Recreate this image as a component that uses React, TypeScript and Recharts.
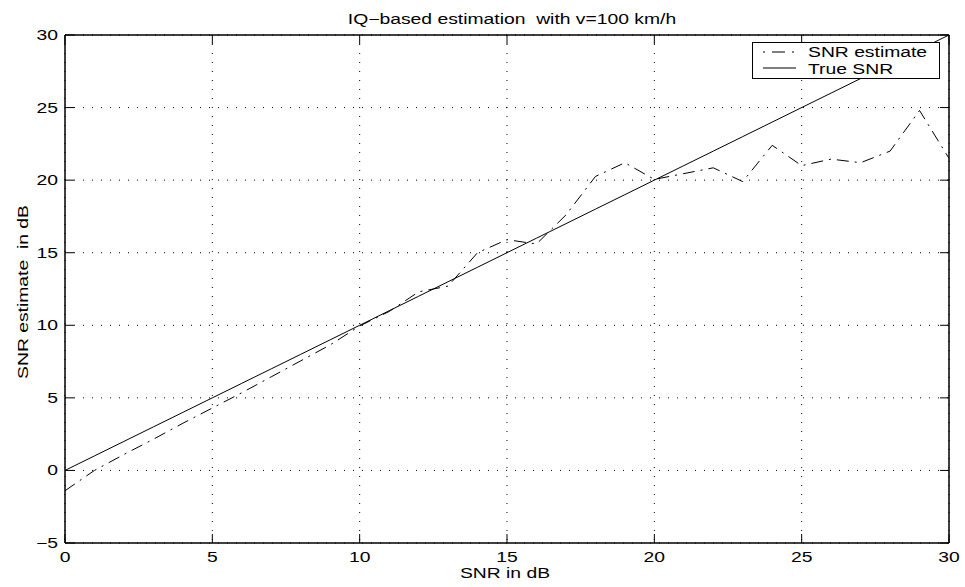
import { CartesianGrid, Legend, Line, LineChart, XAxis, YAxis } from 'recharts'

const SNR_DB = [0, 1, 2, 3, 4, 5, 6, 7, 8, 9, 10, 11, 12, 13, 14, 15, 16, 17, 18, 19, 20, 21, 22, 23, 24, 25, 26, 27, 28, 29, 30]
const TRUE_SNR = [0, 1, 2, 3, 4, 5, 6, 7, 8, 9, 10, 11, 12, 13, 14, 15, 16, 17, 18, 19, 20, 21, 22, 23, 24, 25, 26, 27, 28, 29, 30]
const SNR_EST = [-1.4, 0.0, 1.1, 2.15, 3.25, 4.3, 5.35, 6.45, 7.55, 8.65, 9.95, 10.95, 12.3, 12.7, 15.0, 15.9, 15.6, 17.6, 20.25, 21.2, 20.05, 20.45, 20.85, 19.9, 22.4, 21.0, 21.45, 21.2, 22.0, 24.8, 21.5]
const X_TICKS = [0, 5, 10, 15, 20, 25, 30]
const Y_TICKS = [-5, 0, 5, 10, 15, 20, 25, 30]

const data = SNR_DB.map((snr, i) => ({ snr, est: SNR_EST[i], truth: TRUE_SNR[i] }))

const FONT = '"Liberation Sans", Arial, Helvetica, sans-serif'
const SX = 1.38 // the glyphs in the original are drawn wide

const fmt = (v: number) => String(v).replace('-', '\u2212')

const XTick = ({ x, y, payload }: any) => (
  <text transform={`translate(${x},${y + 10}) scale(${SX},1)`} textAnchor="middle" fontSize={14} fontFamily={FONT} fill="#000">
    {fmt(payload.value)}
  </text>
)

const YTick = ({ x, y, payload }: any) => (
  <text transform={`translate(${x},${y + 5}) scale(${SX},1)`} textAnchor="end" fontSize={14} fontFamily={FONT} fill="#000">
    {fmt(payload.value)}
  </text>
)

const NoTick = () => <g />

const LegendBox = () => (
  <div style={{ width: 188, height: 37, border: '1px solid #000', background: '#fff', boxSizing: 'border-box' }}>
    <svg width={186} height={35} style={{ display: 'block' }}>
      <line x1={10} y1={9} x2={43} y2={9} stroke="#000" strokeDasharray="2 7 13 7 2" />
      <line x1={10} y1={25} x2={43} y2={25} stroke="#000" />
      <text transform={`translate(55,14) scale(${SX},1)`} fontSize={14} fontFamily={FONT}>SNR estimate</text>
      <text transform={`translate(55,31) scale(${SX},1)`} fontSize={14} fontFamily={FONT}>True SNR</text>
    </svg>
  </div>
)

const axisLine = { stroke: '#000', strokeWidth: 1.5 }
const tickLine = { stroke: '#000' }

export default function App() {
  return (
    <div style={{ position: 'absolute', left: 0, top: 0, width: 965, height: 587, background: '#fff' }}>
      <LineChart width={965} height={587} data={data} margin={{ top: 34, right: 15, bottom: 43, left: 64 }}>
        <CartesianGrid xAxisId="b" yAxisId="l" stroke="#000" strokeDasharray="1 8" />
        <XAxis xAxisId="b" dataKey="snr" type="number" domain={[0, 30]} ticks={X_TICKS} allowDataOverflow
          height={1} tickSize={-9} tickMargin={18} tick={<XTick />} axisLine={axisLine} tickLine={tickLine} />
        <XAxis xAxisId="t" orientation="top" dataKey="snr" type="number" domain={[0, 30]} ticks={X_TICKS} allowDataOverflow
          height={1} tickSize={-9} tick={<NoTick />} axisLine={axisLine} tickLine={tickLine} />
        <YAxis yAxisId="l" type="number" domain={[-5, 30]} ticks={Y_TICKS} allowDataOverflow
          width={1} tickSize={-9} tickMargin={16} tick={<YTick />} axisLine={axisLine} tickLine={tickLine} />
        <YAxis yAxisId="r" orientation="right" type="number" domain={[-5, 30]} ticks={Y_TICKS} allowDataOverflow
          width={1} tickSize={-9} tick={<NoTick />} axisLine={axisLine} tickLine={tickLine} />
        <Line xAxisId="b" yAxisId="l" dataKey="est" name="SNR estimate" stroke="#000" strokeWidth={1}
          strokeDasharray="12 6 2 6" dot={false} activeDot={false} isAnimationActive={false} />
        <Line xAxisId="b" yAxisId="l" dataKey="truth" name="True SNR" stroke="#000" strokeWidth={1}
          dot={false} activeDot={false} isAnimationActive={false} />
        <Legend layout="horizontal" verticalAlign="middle" align="center" content={<LegendBox />}
          wrapperStyle={{ left: 752, top: 42, width: 188, height: 37 }} />
      </LineChart>
      <svg width={965} height={587} style={{ position: 'absolute', left: 0, top: 0, pointerEvents: 'none' }}>
        <text transform={`translate(512,24) scale(${SX},1)`} textAnchor="middle" fontSize={14} fontFamily={FONT} style={{ whiteSpace: 'pre' }}>
          {'IQ\u2212based estimation  with v=100 km/h'}
        </text>
        <text transform={`translate(505,578) scale(${SX},1)`} textAnchor="middle" fontSize={14} fontFamily={FONT}>
          SNR in dB
        </text>
        <text transform={`translate(28,292) rotate(-90) scale(${SX},1)`} textAnchor="middle" fontSize={14} fontFamily={FONT} style={{ whiteSpace: 'pre' }}>
          {'SNR estimate  in dB'}
        </text>
      </svg>
    </div>
  )
}
